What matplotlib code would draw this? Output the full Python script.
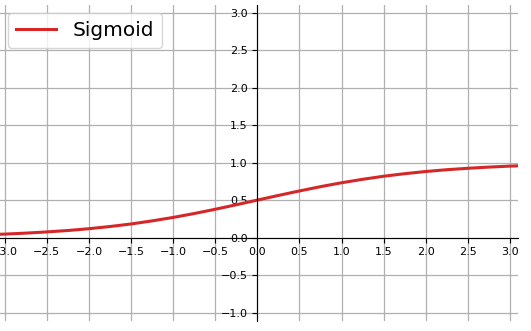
import numpy as np
from matplotlib import pyplot as plt

# pontos
x_vals = [-3.1, -3.0, -2.75, -2.5, -2.25, -2.0, -1.75, -1.5, -1.25, -1.0, -0.75, -0.5, -0.25,
          0.0, 0.25, 0.5, 0.75, 1.0, 1.25, 1.5, 1.75, 2.0, 2.25, 2.5, 2.75, 3.0, 3.1]
y_vals = [0.043, 0.047, 0.060, 0.076, 0.095, 0.119, 0.148, 0.182, 0.223, 0.269, 0.321, 0.378, 0.438,
          0.500, 0.562, 0.622, 0.679, 0.731, 0.777, 0.818, 0.852, 0.881, 0.905, 0.924, 0.940, 0.953, 0.957]
xticks = [-3.0, -2.5, -2.0, -1.5, -1.0, -0.5, 0.0, 0.5, 1.0, 1.5, 2.0, 2.5, 3.0]
yticks = [-1.0, -0.5, 0.0, 0.5, 1.0, 1.5, 2.0, 2.5, 3.0]

fig = plt.figure(figsize=(5.31, 3.31), dpi=100)
ax = fig.add_axes([0.0, 10.3 / 331, 518 / 531, 315.7 / 331])

ax.plot(x_vals, y_vals, color='#d62728', linewidth=2.2, label='Sigmoid')

ax.set_xlim(-3.056, 3.096)
ax.set_ylim(-1.107, 3.1)
ax.set_xticks(xticks)
ax.set_yticks(yticks)
ax.tick_params(labelsize=8)

# eixos passando pela origem
ax.spines['left'].set_position('zero')
ax.spines['bottom'].set_position('zero')
ax.spines['right'].set_visible(False)
ax.spines['top'].set_visible(False)

ax.grid(True, color='#b0b0b0', linewidth=0.9)
ax.set_axisbelow(True)
ax.legend(loc='upper left', fontsize=14.5, borderaxespad=0.4)

fig.savefig('out.png', dpi=100)
